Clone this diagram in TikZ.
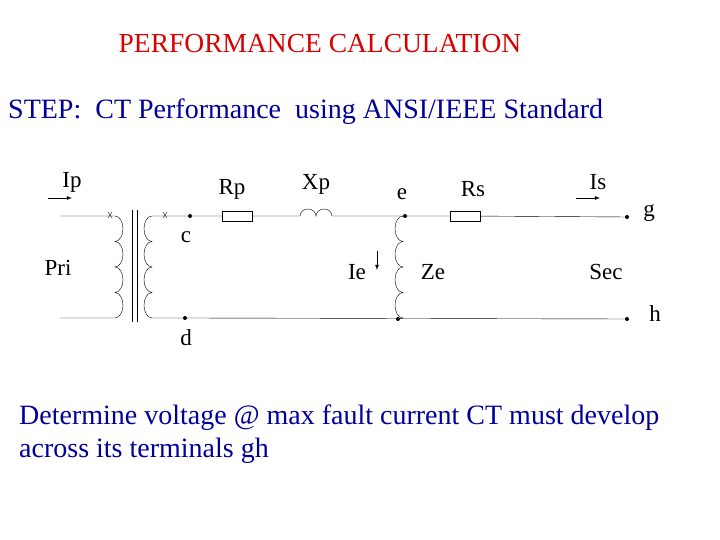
\documentclass[tikz,border=0pt]{standalone}
\usepackage{fontspec}
\setmainfont{Liberation Serif}
\begin{document}
\begin{tikzpicture}[x=1pt,y=1pt,
  lbl/.style={font=\fontsize{23}{25}\selectfont,inner sep=0pt},
  dotn/.style={circle,fill=black,inner sep=0pt,minimum size=4pt},
  res/.style={draw,minimum width=30pt,minimum height=10pt,inner sep=0pt,fill=white},
  arr/.style={-latex,thick}]
\useasboundingbox (0,0) rectangle (720,540);
\node[text=red!85!black,font=\fontsize{27.5}{30}\selectfont] (title) at (320,496) {PERFORMANCE CALCULATION};
\node[anchor=west,text=blue!60!black,font=\fontsize{28}{30}\selectfont,inner sep=0pt] (step) at (8,428) {STEP:\ \ CT Performance\ \ using ANSI/IEEE Standard};
\node[anchor=west,align=left,text=blue!60!black,font=\fontsize{28}{33}\selectfont,inner sep=0pt] (body) at (19,106) {Determine voltage @ max fault current CT must develop\\across its terminals gh};
% nodes
\node[dotn] (c) at (190,324) {};
\node[dotn] (d) at (185,222) {};
\node[dotn] (e) at (405,324) {};
\node[dotn] (eb) at (398,221) {};
\node[dotn] (g) at (627,323) {};
\node[dotn] (h) at (627,221) {};
\node[res] (rp) at (237,324) {};
\node[res] (rs) at (465,324) {};
\coordinate (pa) at (60,324);
\coordinate (pb) at (60,222);
% primary
\draw (pa) -- (115,324) arc[start angle=90,end angle=-90,x radius=8,y radius=12.75]
  arc[start angle=90,end angle=-90,x radius=8,y radius=12.75]
  arc[start angle=90,end angle=-90,x radius=8,y radius=12.75]
  arc[start angle=90,end angle=-90,x radius=8,y radius=12.75] -- (97,222) -- (pb);
\draw (132,330) -- (132,218) (137,330) -- (137,218);
% secondary
\draw (c.center) -- (152,324) arc[start angle=90,end angle=270,x radius=8,y radius=12.75]
  arc[start angle=90,end angle=270,x radius=8,y radius=12.75]
  arc[start angle=90,end angle=270,x radius=8,y radius=12.75]
  arc[start angle=90,end angle=270,x radius=8,y radius=12.75] -- (d.center);
\coordinate (x1) at (110,325); \coordinate (x2) at (165,325);
\draw ([shift={(-2,-3)}]x1) -- ([shift={(2,3)}]x1) ([shift={(-2,3)}]x1) -- ([shift={(2,-3)}]x1);
\draw ([shift={(-2,-3)}]x2) -- ([shift={(2,3)}]x2) ([shift={(-2,3)}]x2) -- ([shift={(2,-3)}]x2);
\draw (c.center) -- (rp) -- (300,324) arc[start angle=180,end angle=0,x radius=8,y radius=7]
  arc[start angle=180,end angle=0,x radius=8,y radius=7] -- (e.center) -- (rs) -- (g.center);
\draw (d.center) -- (h.center);
% Ze
\draw (e.center) -- (403,324) arc[start angle=90,end angle=270,x radius=8,y radius=12.75]
  arc[start angle=90,end angle=270,x radius=8,y radius=12.75]
  arc[start angle=90,end angle=270,x radius=8,y radius=12.75]
  arc[start angle=90,end angle=270,x radius=8,y radius=12.75] -- (eb.center);
% arrows
\coordinate (ip1) at (48,342); \coordinate (ip2) at (72,342);
\draw[arr] (ip1) -- (ip2);
\coordinate (is1) at (576,342); \coordinate (is2) at (600,342);
\draw[arr] (is1) -- (is2);
\coordinate (ie1) at (377,289); \coordinate (ie2) at (377,270);
\draw[arr] (ie1) -- (ie2);
% labels
\node[lbl] at (72,358) {Ip};
\node[lbl] at (232,351) {Rp};
\node[lbl] at (316,356) {Xp};
\node[lbl] at (402,346) {e};
\node[lbl] at (473,351) {Rs};
\node[lbl] at (598,358) {Is};
\node[lbl] at (649,327) {g};
\node[lbl] at (186,303) {c};
\node[lbl] at (58,272) {Pri};
\node[lbl] at (357,268) {Ie};
\node[lbl] at (433,268) {Ze};
\node[lbl] at (606,268) {Sec};
\node[lbl] at (655,226) {h};
\node[lbl] at (186,202) {d};
\end{tikzpicture}
\end{document}
